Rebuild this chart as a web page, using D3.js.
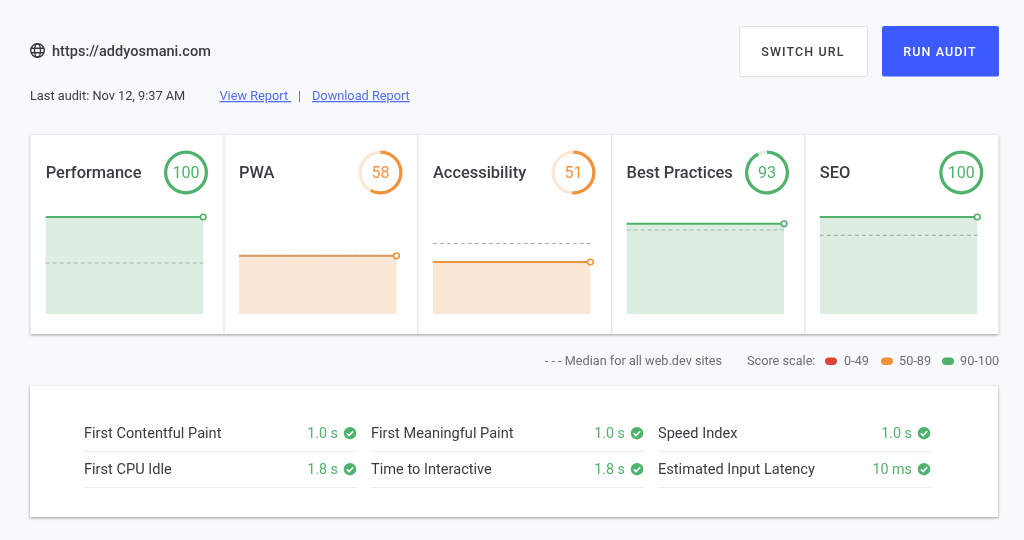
<!DOCTYPE html>
<html>
<head>
<meta charset="utf-8">
<script src="https://cdn.jsdelivr.net/npm/d3@7"></script>
<style>
  html, body { margin: 0; padding: 0; background: #f8f9fb; }
  svg { display: block; font-family: Roboto, sans-serif; filter: blur(0.35px); }
</style>
</head>
<body>
<div id="chart"></div>
<script>
// what the panels show
var categories = ["Performance", "PWA", "Accessibility", "Best Practices", "SEO"];
var scores = [100, 58, 51, 93, 100];
var lineValues = [100, 60, 53.6, 93, 100];
var medians = [52.6, 60, 72.7, 86.6, 81];
var runs = [0, 1];

var metricNames = ["First Contentful Paint", "First Meaningful Paint", "Speed Index",
                   "First CPU Idle", "Time to Interactive", "Estimated Input Latency"];
var metricValues = ["1.0 s", "1.0 s", "1.0 s", "1.8 s", "1.8 s", "10 ms"];

var scaleLabels = ["0-49", "50-89", "90-100"];
var scaleColors = ["#dc4437", "#f2923a", "#4fb26c"];
var scaleTints = ["#fadfdc", "#fbe7d6", "#dceee1"];

var width = 1024, height = 540;
var textDark = "#3a3c40", textGrey = "#6b6e73", linkBlue = "#4f6df5";

var svg = d3.select("#chart").append("svg")
    .attr("width", width)
    .attr("height", height);

var defs = svg.append("defs");
var shadow = defs.append("filter").attr("id", "shadow")
    .attr("x", "-3%").attr("y", "-5%").attr("width", "106%").attr("height", "112%");
shadow.append("feDropShadow")
    .attr("dx", 0).attr("dy", 1).attr("stdDeviation", 1.6)
    .attr("flood-color", "#000").attr("flood-opacity", 0.38);

function bandIndex(score) {
    return score < 50 ? 0 : score < 90 ? 1 : 2;
}

// header
var globe = svg.append("g")
    .attr("transform", "translate(37.5,50.5)")
    .attr("fill", "none")
    .attr("stroke", "#33363a")
    .attr("stroke-width", 1.4);
globe.append("circle").attr("r", 6.8);
globe.append("ellipse").attr("rx", 3).attr("ry", 6.8);
globe.append("path").attr("d", "M-6.5,-2.3H6.5M-6.5,2.3H6.5");

svg.append("text").attr("x", 52).attr("y", 56)
    .attr("font-size", 14.55).attr("font-weight", 500).attr("fill", textDark)
    .text("https://addyosmani.com");

svg.append("text").attr("x", 30).attr("y", 100)
    .attr("font-size", 12.75).attr("fill", textDark)
    .text("Last audit: Nov 12, 9:37 AM");

svg.append("text").attr("x", 219.5).attr("y", 100)
    .attr("font-size", 12.75).attr("fill", linkBlue)
    .attr("text-decoration", "underline")
    .text("View Report\u00a0");
svg.append("text").attr("x", 298).attr("y", 100)
    .attr("font-size", 12.75).attr("fill", textGrey).text("|");
svg.append("text").attr("x", 312).attr("y", 100)
    .attr("font-size", 12.75).attr("fill", linkBlue)
    .attr("text-decoration", "underline")
    .text("Download Report");

// buttons
svg.append("rect").attr("x", 739.5).attr("y", 26.5).attr("width", 128).attr("height", 50).attr("rx", 2)
    .attr("fill", "#fff").attr("stroke", "#dfe1e5");
svg.append("text").attr("x", 803).attr("y", 56).attr("text-anchor", "middle")
    .attr("font-size", 12.5).attr("font-weight", 500).attr("letter-spacing", 1.1).attr("fill", textDark)
    .text("SWITCH URL");
svg.append("rect").attr("x", 882).attr("y", 26).attr("width", 117).attr("height", 50.5).attr("rx", 2)
    .attr("fill", "#3d5afe");
svg.append("text").attr("x", 940).attr("y", 56).attr("text-anchor", "middle")
    .attr("font-size", 12.5).attr("font-weight", 500).attr("letter-spacing", 1.1).attr("fill", "#fff")
    .text("RUN AUDIT");

// score panels
var panelLeft = 30.7, panelTop = 135, panelW = 967.5, panelH = 199;
svg.append("rect")
    .attr("x", panelLeft).attr("y", panelTop).attr("width", panelW).attr("height", panelH)
    .attr("fill", "#fff").attr("filter", "url(#shadow)");

// panels are not quite equal in the screenshot, so the edges are set by hand
var panelEdges = [30.7, 224, 417.9, 611.6, 804.8];
var gaugeCentres = [186, 380.5, 573.5, 767, 961.3];

var y = d3.scaleLinear().domain([0, 100]).range([314, 217]);
var x = d3.scaleLinear().domain(d3.extent(runs)).range([15, 172.5]);

var line = d3.line().x(function (d) { return x(d.run); }).y(function (d) { return y(d.value); });
var area = d3.area().x(function (d) { return x(d.run); }).y0(y(0)).y1(function (d) { return y(d.value); });
var tau = 2 * Math.PI;
var gaugeArc = d3.arc().innerRadius(18.8).outerRadius(22).startAngle(0);

var panels = svg.selectAll("g.panel")
    .data(categories)
    .enter().append("g")
    .attr("class", "panel")
    .attr("transform", function (d, i) { return "translate(" + panelEdges[i] + ",0)"; });

panels.filter(function (d, i) { return i > 0; }).append("line")
    .attr("x1", 0).attr("x2", 0).attr("y1", panelTop).attr("y2", panelTop + panelH)
    .attr("stroke", "#e4e5e8").attr("stroke-width", 1.3);

panels.append("text")
    .attr("x", 15).attr("y", 178)
    .attr("font-size", 16.45).attr("font-weight", 500).attr("fill", textDark)
    .text(function (d) { return d; });

panels.each(function (name, i) {
    var g = d3.select(this);
    var band = bandIndex(scores[i]);
    var series = runs.map(function (r) { return { run: r, value: lineValues[i] }; });
    var medianSeries = runs.map(function (r) { return { run: r, value: medians[i] }; });

    g.append("path").attr("d", area(series)).attr("fill", scaleTints[band]);
    g.append("path").attr("d", line(series))
        .attr("fill", "none").attr("stroke", scaleColors[band]).attr("stroke-width", 2);
    // median sits on top, it shows through the PWA line
    g.append("path").attr("d", line(medianSeries))
        .attr("fill", "none").attr("stroke", "#a9adaf").attr("stroke-width", 1.2).attr("stroke-dasharray", "4,3");
    g.append("circle")
        .attr("cx", x(runs[1])).attr("cy", y(lineValues[i])).attr("r", 2.8)
        .attr("fill", "#fff").attr("stroke", scaleColors[band]).attr("stroke-width", 1.6);

    var gauge = g.append("g").attr("transform", "translate(" + (gaugeCentres[i] - panelEdges[i]) + ",172.5)");
    gauge.append("path").attr("d", gaugeArc({ endAngle: tau })).attr("fill", scaleTints[band]);
    gauge.append("path").attr("d", gaugeArc({ endAngle: scores[i] / 100 * tau })).attr("fill", scaleColors[band]);
    gauge.append("text")
        .attr("y", 5.6).attr("text-anchor", "middle")
        .attr("font-size", 16).attr("fill", scaleColors[band])
        .text(scores[i]);
});

// legend
var legendY = 365;
svg.append("text").attr("x", 722).attr("y", legendY).attr("text-anchor", "end")
    .attr("font-size", 12.7).attr("fill", textGrey)
    .text("- - - Median for all web.dev sites");
svg.append("text").attr("x", 747).attr("y", legendY)
    .attr("font-size", 12.7).attr("fill", textGrey).text("Score scale:");

var pillX = [825, 881, 942], labelX = [844, 899, 960];
var legend = svg.selectAll("g.scale")
    .data(scaleLabels)
    .enter().append("g").attr("class", "scale");
legend.append("rect")
    .attr("x", function (d, i) { return pillX[i]; }).attr("y", legendY - 7.5)
    .attr("width", 12).attr("height", 7.5).attr("rx", 3.7)
    .attr("fill", function (d, i) { return scaleColors[i]; });
legend.append("text")
    .attr("x", function (d, i) { return labelX[i]; }).attr("y", legendY)
    .attr("font-size", 12.7).attr("fill", textGrey)
    .text(function (d) { return d; });

// metrics
svg.append("rect")
    .attr("x", 30).attr("y", 386).attr("width", 968).attr("height", 131)
    .attr("fill", "#fff").attr("filter", "url(#shadow)");

var colX = [84, 371, 658], rowY = [438, 474], colW = 273;
var metrics = svg.selectAll("g.metric")
    .data(metricNames)
    .enter().append("g")
    .attr("class", "metric")
    .attr("transform", function (d, i) { return "translate(" + colX[i % 3] + "," + rowY[Math.floor(i / 3)] + ")"; });

metrics.append("text")
    .attr("font-size", 14.6).attr("fill", textDark)
    .text(function (d) { return d; });
metrics.append("text")
    .attr("x", colW - 19).attr("text-anchor", "end")
    .attr("font-size", 14.3).attr("fill", scaleColors[2])
    .text(function (d, i) { return metricValues[i]; });
metrics.append("line")
    .attr("x1", 0).attr("x2", colW).attr("y1", 13.5).attr("y2", 13.5)
    .attr("stroke", "#eceded").attr("stroke-width", 1);
metrics.append("circle")
    .attr("cx", colW - 7).attr("cy", -4.8).attr("r", 6.2)
    .attr("fill", scaleColors[2]);
metrics.append("path")
    .attr("d", "M" + (colW - 10.2) + ",-4.8L" + (colW - 7.9) + ",-2.5L" + (colW - 3.8) + ",-6.8")
    .attr("fill", "none").attr("stroke", "#fff").attr("stroke-width", 1.6);
</script>
</body>
</html>
